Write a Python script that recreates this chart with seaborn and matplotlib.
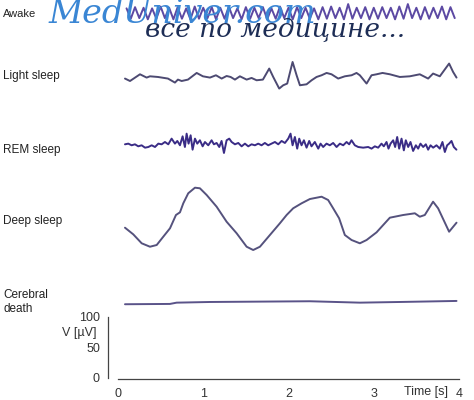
import matplotlib
matplotlib.use('Agg')
import matplotlib.pyplot as plt
import seaborn as sns
import numpy as np

# EEG traces, time in s, amplitude in microvolts (relative to each trace's baseline)
stage_names = ['Awake', 'Light sleep', 'REM sleep', 'Deep sleep', 'Cerebral\ndeath']
stage_offsets = [598, 493, 382, 259, 123]

awake_t = [0.10, 0.15, 0.20, 0.25, 0.30, 0.35, 0.40, 0.45, 0.50, 0.55, 0.60, 0.65, 0.70,
           0.75, 0.80, 0.85, 0.90, 0.95, 1.00, 1.05, 1.10, 1.15, 1.20, 1.25, 1.30, 1.35,
           1.40, 1.45, 1.50, 1.55, 1.60, 1.65, 1.70, 1.75, 1.80, 1.85, 1.90, 1.95, 2.00,
           2.05, 2.10, 2.15, 2.20, 2.25, 2.30, 2.35, 2.40, 2.45, 2.50, 2.55, 2.60, 2.65,
           2.70, 2.75, 2.80, 2.85, 2.90, 2.95, 3.00, 3.05, 3.10, 3.15, 3.20, 3.25, 3.30,
           3.35, 3.40, 3.45, 3.50, 3.55, 3.60, 3.65, 3.70, 3.75, 3.80, 3.85, 3.90, 3.95]
awake_v = [8, -9, 10, -8, 9, -10, 8, -9, 11, -8, 9, -10, 10, -9, 8, -10, 11, -9, 9, -8,
           10, -10, 9, -9, 11, -8, 8, -10, 10, -9, 9, -8, 10, -10, 8, -9, 11, -8, 9, -10,
           10, -8, 9, -9, 8, -10, 10, -9, 11, -8, 9, -10, 15, -9, 9, -8, 10, -10, 9, -9,
           10, -8, 9, -10, 11, -9, 15, -8, 9, -10, 10, -9, 9, -8, 11, -10, 10, -8]

light_t = [0.082, 0.141, 0.258, 0.336, 0.375, 0.469, 0.586, 0.668, 0.703, 0.747, 0.821,
           0.923, 0.996, 1.079, 1.149, 1.216, 1.274, 1.321, 1.372, 1.430, 1.509, 1.567,
           1.626, 1.700, 1.774, 1.821, 1.891, 1.938, 1.985, 2.048, 2.095, 2.134, 2.212,
           2.271, 2.329, 2.388, 2.447, 2.505, 2.583, 2.661, 2.740, 2.798, 2.837, 2.916,
           2.974, 3.033, 3.103, 3.189, 3.306, 3.423, 3.540, 3.638, 3.696, 3.775, 3.884,
           3.931, 3.971]
light_v = [-2.1, -6.1, 4.9, -0.5, 1.6, 0.5, -2.1, -8.7, -3.8, -6.1, -3.8, 7.1, 1.6, -0.5,
           3.3, -2.1, 2.1, 0.5, -3.8, 1.6, -3.8, -1.1, -4.9, -3.8, 14.3, 0.5, -18.5, -13.1,
           -10.3, 25.1, 3.3, -13.1, -11.5, -4.9, 0.5, 3.3, 7.1, 4.9, -2.1, 1.6, 3.3, 7.1,
           3.3, -10.3, 3.3, 4.9, 7.1, 4.9, 0.5, 1.6, 4.9, -2.1, 6.1, 1.6, 22.5, 8.7, -0.5]

rem_t = [0.082, 0.121, 0.160, 0.199, 0.238, 0.277, 0.317, 0.356, 0.395, 0.434, 0.473,
         0.512, 0.551, 0.590, 0.629, 0.668, 0.696, 0.727, 0.758, 0.785, 0.805, 0.828,
         0.852, 0.875, 0.903, 0.930, 0.961, 0.993, 1.020, 1.059, 1.098, 1.125, 1.157,
         1.188, 1.215, 1.243, 1.274, 1.305, 1.333, 1.372, 1.411, 1.450, 1.489, 1.528,
         1.567, 1.606, 1.645, 1.684, 1.723, 1.762, 1.801, 1.841, 1.880, 1.919, 1.958,
         1.997, 2.024, 2.048, 2.075, 2.102, 2.126, 2.153, 2.181, 2.212, 2.243, 2.270,
         2.309, 2.349, 2.376, 2.407, 2.446, 2.485, 2.524, 2.564, 2.603, 2.642, 2.681,
         2.712, 2.739, 2.778, 2.818, 2.876, 2.935, 2.974, 3.013, 3.052, 3.091, 3.118,
         3.150, 3.173, 3.197, 3.228, 3.251, 3.275, 3.298, 3.326, 3.353, 3.376, 3.404,
         3.431, 3.462, 3.494, 3.521, 3.548, 3.580, 3.611, 3.638, 3.666, 3.697, 3.736,
         3.775, 3.806, 3.834, 3.861, 3.884, 3.912, 3.939, 3.970]
rem_v = [1.1, 2.2, -0.5, 1.1, -2.2, -0.5, -4.4, -3.3, -0.5, -3.3, 2.2, 1.1, 4.9, 1.1,
         10.4, 2.2, 6.6, -0.5, 14.2, -3.3, 18.6, 2.2, 15.9, -7.7, 10.4, 2.2, 7.7, -2.2,
         4.9, -0.5, 7.7, 1.1, 3.3, -3.3, 6.6, -13.1, 7.7, 10.4, 4.9, 1.1, 3.3, -2.2, 2.2,
         -2.2, 1.1, -0.5, 2.2, -0.5, 3.3, -0.5, 2.2, 4.9, 1.1, 6.6, 3.3, 10.4, 18.6, -0.5,
         13.1, -6.0, 10.4, -0.5, 7.7, -4.4, 6.6, -2.2, 4.9, -6.0, 2.2, -3.3, 2.2, -0.5,
         3.3, -3.3, 2.2, -0.5, 4.9, 1.1, 7.7, -0.5, -3.3, -4.4, -3.3, -6.0, -2.2, -4.4,
         2.2, -2.2, 4.9, -6.0, 2.2, 7.7, -3.3, 13.1, -6.0, 10.4, -8.8, 7.7, -3.3, 4.9,
         -9.8, -0.5, -6.0, 2.2, -3.3, 1.1, -7.7, -0.5, -4.4, -0.5, -6.0, 4.9, -11.5, -0.5,
         2.2, 6.6, -3.3, -7.7]

deep_t = [0.082, 0.179, 0.278, 0.375, 0.454, 0.531, 0.610, 0.680, 0.727, 0.766, 0.824,
          0.903, 0.961, 1.040, 1.157, 1.274, 1.392, 1.509, 1.586, 1.665, 1.782, 1.899,
          1.978, 2.055, 2.154, 2.251, 2.388, 2.465, 2.524, 2.594, 2.661, 2.740, 2.837,
          2.916, 3.033, 3.189, 3.345, 3.482, 3.540, 3.599, 3.696, 3.755, 3.884, 3.971]
deep_v = [-12.6, -23.5, -38.2, -43.8, -41.0, -27.4, -13.6, 8.2, 12.6, 27.4, 43.8, 53.0,
          52.0, 41.0, 21.8, -2.8, -21.8, -43.8, -49.2, -43.8, -24.6, -5.4, 8.2, 19.2, 27.4,
          34.4, 38.2, 32.8, 19.2, 2.8, -24.6, -32.8, -38.2, -32.8, -20.2, 3.8, 8.2, 11.0,
          5.4, 8.2, 30.0, 19.2, -19.2, -4.4]

death_t = [0.082, 0.609, 0.688, 1.079, 2.251, 2.837, 3.306, 3.971]
death_v = [-2.1, -1.6, 0.5, 1.6, 2.8, 0.5, 1.6, 3.3]

trace_t = [awake_t, light_t, rem_t, deep_t, death_t]
trace_v = [awake_v, light_v, rem_v, deep_v, death_v]
trace_colors = ['#5c49a3', '#4d4a72', '#3a2c86', '#55527d', '#5a5389']

x_ticks = [0, 1, 2, 3, 4]
y_ticks = [0, 50, 100]

sns.set_style('white')
plt.rcParams['font.family'] = ['Liberation Sans', 'DejaVu Sans']

fig = plt.figure(figsize=(4.74, 4.0), dpi=100)
ax = fig.add_axes([0, 0, 1, 1])
ax.patch.set_alpha(0)

# watermark
fig.text(48 / 474, 1 - 23 / 400, 'MedUniver.com', family=['DejaVu Serif'],
         style='italic', fontsize=24, color='#3a86d4', va='baseline', ha='left', zorder=0)
fig.text(145 / 474, 1 - 37 / 400, 'все по медицине...', family=['DejaVu Serif'],
         style='italic', fontsize=19, color='#1d2d55', va='baseline', ha='left', zorder=0)

for t, v, off, col in zip(trace_t, trace_v, stage_offsets, trace_colors):
    sns.lineplot(x=t, y=np.array(v) + off, ax=ax, color=col, lw=1.4, zorder=3)

ax.set_xlim(-1.384, 4.176)
ax.set_ylim(-36.1, 619.7)

for s in ['top', 'right']:
    ax.spines[s].set_visible(False)
ax.spines['left'].set_position(('data', -0.114))
ax.spines['left'].set_bounds(0, 100)
ax.spines['bottom'].set_position(('data', -1.2))
ax.spines['bottom'].set_bounds(0, 4)
for s in ['left', 'bottom']:
    ax.spines[s].set_color('#444444')
    ax.spines[s].set_linewidth(0.9)

ax.set_xticks(x_ticks)
ax.set_xticklabels([str(x) for x in x_ticks])
ax.set_yticks(y_ticks)
ax.set_yticklabels([str(y) for y in y_ticks])
ax.tick_params(axis='both', direction='out', length=4, width=0.9, color='#444444',
               labelsize=9, labelcolor='#333333', pad=2)
ax.tick_params(axis='x', length=5)

# axis captions
fig.text(448 / 474, 1 - 392 / 400, 'Time [s]', fontsize=9, color='#333333', ha='right', va='center')
fig.text(97 / 474, 1 - 333 / 400, 'V [µV]', fontsize=9, color='#333333', ha='right', va='center')

label_y = [14, 76, 150.5, 221, 302]
label_size = [8, 8.5, 8.5, 8.5, 8.5]
for name, y, fs in zip(stage_names, label_y, label_size):
    fig.text(3 / 474, 1 - y / 400, name, fontsize=fs, color='#222222', ha='left', va='center',
             linespacing=1.3)

fig.savefig('out.png', dpi=100)
